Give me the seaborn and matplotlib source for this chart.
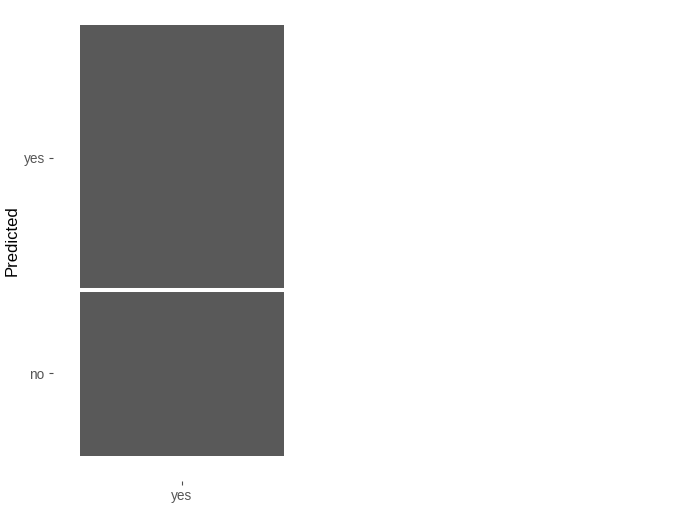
import numpy as np
import pandas as pd
import matplotlib
matplotlib.use('Agg')
import matplotlib.pyplot as plt
import seaborn as sns

# mosaic data: one actual class, two predicted classes
actual = ['yes']
predicted = ['no', 'yes']
counts = [20, 32]

sns.set_style('white')
plt.rcParams['font.family'] = ['Liberation Sans', 'DejaVu Sans']

props = np.array(counts) / sum(counts)
tops = np.cumsum(props)
mids = tops - props / 2

fig = plt.figure(figsize=(6.78, 5.25), dpi=100)
# panel is a bit larger than the tiles (ggplot style expansion)
ax = fig.add_axes([53 / 678, 44 / 525, 258 / 678, 481 / 525])

# draw tiles from top level down so lower tiles sit over upper ones
for lvl, top in reversed(list(zip(predicted, tops))):
    df = pd.DataFrame({'actual': actual, 'top': [top]})
    sns.barplot(data=df, x='actual', y='top', color='#595959', width=1,
                saturation=1, edgecolor='none', ax=ax)

# white gaps between tiles
for b in tops[:-1]:
    ax.axhline(b, xmin=0.1, xmax=0.9, color='white', lw=2.9)

xpad = 0.5 * 27 / 102
ypad = 25 / 431
ax.set_xlim(-0.5 - xpad, 0.5 + xpad)
ax.set_ylim(-ypad, 1 + ypad)
ax.set_yticks(mids)
ax.set_yticklabels(predicted)
ax.set_ylabel('Predicted', fontsize=12, color='black')
ax.yaxis.set_label_coords(-0.13, 0.5)
ax.set_xlabel('')
ax.tick_params(axis='both', colors='#4D4D4D', labelsize=9.8, length=3,
               width=0.8, left=True, bottom=True, pad=3)
for t in ax.get_xticklabels() + ax.get_yticklabels():
    t.set_color('#555555')
sns.despine(ax=ax, left=True, bottom=True)

fig.savefig('out.png', dpi=100)
